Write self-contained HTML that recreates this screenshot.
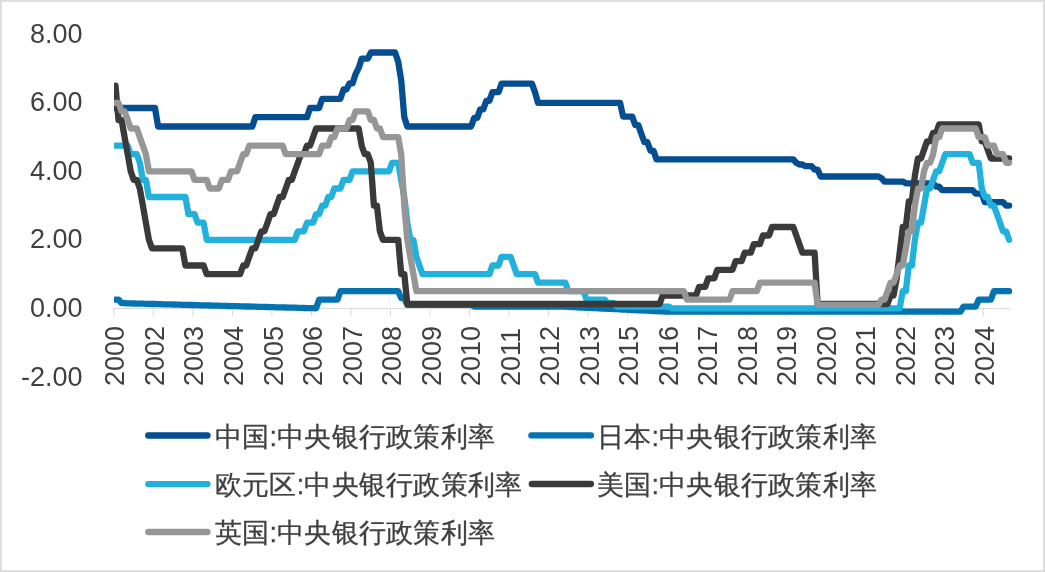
<!DOCTYPE html><html><head><meta charset="utf-8"><style>
html,body{margin:0;padding:0;background:#fff;}
body{width:1045px;height:572px;position:relative;overflow:hidden;font-family:"Liberation Sans",sans-serif;color:#404040;-webkit-font-smoothing:antialiased;}
.frame{position:absolute;left:0;top:0;width:1041px;height:568px;border:2px solid #dedede;}
.yl{will-change:transform;position:absolute;right:962.3px;font-size:27px;line-height:30px;height:30px;white-space:nowrap;}
.xl{will-change:transform;position:absolute;font-size:27px;line-height:30px;height:30px;white-space:nowrap;transform-origin:0 0;transform:rotate(-90deg);}
.lg{will-change:transform;position:absolute;font-size:27px;letter-spacing:0.24px;-webkit-text-stroke:0.3px #404040;line-height:30px;white-space:nowrap;}
</style></head><body><div class="frame"></div>
<svg width="1045" height="572" viewBox="0 0 1045 572" style="position:absolute;left:0;top:0">
<defs><clipPath id="pc"><rect x="114" y="0" width="931" height="572"/></clipPath></defs>
<line x1="113.4" y1="308.5" x2="1010.7" y2="308.5" stroke="#dadada" stroke-width="1.1"/>
<line x1="113.90" y1="308" x2="113.90" y2="316.5" stroke="#dcdcdc" stroke-width="1.1"/>
<line x1="153.41" y1="308" x2="153.41" y2="316.5" stroke="#dcdcdc" stroke-width="1.1"/>
<line x1="192.93" y1="308" x2="192.93" y2="316.5" stroke="#dcdcdc" stroke-width="1.1"/>
<line x1="232.44" y1="308" x2="232.44" y2="316.5" stroke="#dcdcdc" stroke-width="1.1"/>
<line x1="271.95" y1="308" x2="271.95" y2="316.5" stroke="#dcdcdc" stroke-width="1.1"/>
<line x1="311.47" y1="308" x2="311.47" y2="316.5" stroke="#dcdcdc" stroke-width="1.1"/>
<line x1="350.98" y1="308" x2="350.98" y2="316.5" stroke="#dcdcdc" stroke-width="1.1"/>
<line x1="390.49" y1="308" x2="390.49" y2="316.5" stroke="#dcdcdc" stroke-width="1.1"/>
<line x1="430.01" y1="308" x2="430.01" y2="316.5" stroke="#dcdcdc" stroke-width="1.1"/>
<line x1="469.52" y1="308" x2="469.52" y2="316.5" stroke="#dcdcdc" stroke-width="1.1"/>
<line x1="509.03" y1="308" x2="509.03" y2="316.5" stroke="#dcdcdc" stroke-width="1.1"/>
<line x1="548.55" y1="308" x2="548.55" y2="316.5" stroke="#dcdcdc" stroke-width="1.1"/>
<line x1="588.06" y1="308" x2="588.06" y2="316.5" stroke="#dcdcdc" stroke-width="1.1"/>
<line x1="627.58" y1="308" x2="627.58" y2="316.5" stroke="#dcdcdc" stroke-width="1.1"/>
<line x1="667.09" y1="308" x2="667.09" y2="316.5" stroke="#dcdcdc" stroke-width="1.1"/>
<line x1="706.60" y1="308" x2="706.60" y2="316.5" stroke="#dcdcdc" stroke-width="1.1"/>
<line x1="746.12" y1="308" x2="746.12" y2="316.5" stroke="#dcdcdc" stroke-width="1.1"/>
<line x1="785.63" y1="308" x2="785.63" y2="316.5" stroke="#dcdcdc" stroke-width="1.1"/>
<line x1="825.14" y1="308" x2="825.14" y2="316.5" stroke="#dcdcdc" stroke-width="1.1"/>
<line x1="864.66" y1="308" x2="864.66" y2="316.5" stroke="#dcdcdc" stroke-width="1.1"/>
<line x1="904.17" y1="308" x2="904.17" y2="316.5" stroke="#dcdcdc" stroke-width="1.1"/>
<line x1="943.68" y1="308" x2="943.68" y2="316.5" stroke="#dcdcdc" stroke-width="1.1"/>
<line x1="983.20" y1="308" x2="983.20" y2="316.5" stroke="#dcdcdc" stroke-width="1.1"/>
<g clip-path="url(#pc)" fill="none" stroke-width="6.3" stroke-linejoin="round" stroke-linecap="round">
<path d="M115.5 108.0 L155.0 108.0 L158.1 126.5 L252.3 126.5 L255.3 117.2 L307.0 117.2 L310.0 108.0 L319.1 108.0 L322.2 98.8 L340.4 98.8 L343.5 89.5 L346.5 89.5 L349.5 83.3 L352.6 83.3 L355.6 74.1 L358.7 67.9 L361.7 58.7 L367.8 58.7 L370.8 52.5 L395.1 52.5 L398.2 61.8 L401.2 80.3 L404.3 117.2 L407.3 126.5 L471.1 126.5 L474.2 117.9 L477.2 117.9 L480.2 109.4 L483.3 109.4 L486.3 100.8 L489.4 100.8 L492.4 92.2 L498.5 92.2 L501.5 83.7 L531.9 83.7 L535.0 92.2 L538.0 102.9 L620.1 102.9 L623.1 116.6 L632.2 116.6 L635.3 125.1 L638.3 125.1 L641.3 133.7 L644.4 142.2 L647.4 142.2 L650.5 150.8 L653.5 150.8 L656.5 159.4 L793.3 159.4 L796.3 162.8 L799.4 164.5 L802.4 164.5 L805.5 166.2 L811.5 166.2 L814.6 169.6 L817.6 169.6 L820.7 176.5 L878.4 176.5 L881.5 178.2 L884.5 181.6 L902.7 181.6 L905.8 183.3 L933.1 183.3 L936.2 186.7 L939.2 186.7 L942.2 190.2 L972.6 190.2 L975.7 193.6 L981.8 193.6 L984.8 202.2 L1003.0 202.2 L1006.1 205.6 L1009.1 205.6" stroke="#054e92"/>
<path d="M115.5 299.7 L118.5 299.7 L121.6 303.2 L124.6 303.2 L127.7 303.3 L130.7 303.4 L133.7 303.5 L136.8 303.6 L139.8 303.6 L142.9 303.7 L145.9 303.8 L148.9 303.9 L152.0 304.0 L155.0 304.0 L158.1 304.1 L161.1 304.2 L164.1 304.3 L167.2 304.4 L170.2 304.4 L173.3 304.5 L176.3 304.6 L179.3 304.7 L182.4 304.8 L185.4 304.8 L188.4 304.9 L191.5 305.0 L194.5 305.1 L197.6 305.2 L200.6 305.3 L203.6 305.3 L206.7 305.4 L209.7 305.5 L212.8 305.6 L215.8 305.7 L218.8 305.7 L221.9 305.8 L224.9 305.9 L228.0 306.0 L231.0 306.1 L234.0 306.1 L237.1 306.2 L240.1 306.3 L243.2 306.4 L246.2 306.5 L249.2 306.5 L252.3 306.6 L255.3 306.7 L258.4 306.8 L261.4 306.9 L264.4 306.9 L267.5 307.0 L270.5 307.1 L273.6 307.2 L276.6 307.3 L279.6 307.3 L282.7 307.4 L285.7 307.5 L288.8 307.6 L291.8 307.7 L294.8 307.7 L297.9 307.8 L300.9 307.9 L303.9 308.0 L307.0 308.1 L310.0 308.1 L313.1 308.2 L316.1 308.3 L319.1 299.7 L337.4 299.7 L340.4 291.2 L398.2 291.2 L401.2 298.0 L404.3 298.0 L407.3 304.9 L471.1 304.9 L474.2 306.6 L562.3 306.6 L565.3 306.7 L568.4 306.9 L571.4 307.0 L574.5 307.2 L577.5 307.3 L580.5 307.5 L583.6 307.6 L586.6 307.8 L589.7 307.9 L592.7 308.1 L595.7 308.2 L598.8 308.3 L601.8 308.5 L604.9 308.6 L607.9 308.8 L610.9 308.9 L614.0 309.1 L617.0 309.2 L620.1 309.4 L623.1 309.5 L626.1 309.7 L629.2 309.8 L632.2 310.0 L635.3 310.1 L638.3 310.3 L641.3 310.4 L644.4 310.6 L647.4 310.7 L650.5 310.8 L653.5 311.0 L656.5 311.1 L659.6 311.3 L662.6 311.4 L665.6 311.6 L668.7 311.7 L671.7 311.7 L960.5 311.7 L963.5 306.6 L966.6 306.6 L975.7 306.6 L978.7 299.7 L990.9 299.7 L993.9 291.2 L1009.1 291.2" stroke="#0473b2"/>
<path d="M115.5 145.7 L127.7 145.7 L130.7 154.2 L136.8 154.2 L139.8 162.8 L142.9 179.9 L145.9 179.9 L148.9 197.0 L185.4 197.0 L188.4 214.1 L194.5 214.1 L197.6 222.7 L203.6 222.7 L206.7 239.8 L294.8 239.8 L297.9 231.3 L303.9 231.3 L307.0 222.7 L313.1 222.7 L316.1 214.1 L319.1 214.1 L322.2 205.6 L325.2 205.6 L328.3 197.0 L331.3 197.0 L334.3 188.5 L340.4 188.5 L343.5 179.9 L349.5 179.9 L352.6 171.3 L389.1 171.3 L392.1 162.8 L398.2 162.8 L401.2 179.9 L404.3 197.0 L407.3 222.7 L410.3 239.8 L413.4 239.8 L416.4 256.9 L419.4 265.5 L422.5 274.1 L489.4 274.1 L492.4 265.5 L498.5 265.5 L501.5 256.9 L510.6 256.9 L513.7 265.5 L516.7 274.1 L535.0 274.1 L538.0 282.6 L565.3 282.6 L568.4 291.2 L583.6 291.2 L586.6 299.7 L604.9 299.7 L607.9 303.2 L614.0 303.2 L617.0 306.6 L668.7 306.6 L671.7 308.3 L899.7 308.3 L902.7 291.2 L905.8 291.2 L908.8 265.5 L911.8 265.5 L914.9 239.8 L917.9 222.7 L921.0 222.7 L924.0 205.6 L927.0 188.5 L930.1 188.5 L933.1 179.9 L936.2 171.3 L939.2 171.3 L942.2 162.8 L945.3 154.2 L969.6 154.2 L972.6 162.8 L978.7 162.8 L981.8 188.5 L984.8 197.0 L987.8 197.0 L990.9 205.6 L993.9 205.6 L997.0 214.1 L1000.0 222.7 L1003.0 231.3 L1006.1 231.3 L1009.1 239.8" stroke="#21b1dc"/>
<path d="M115.5 85.7 L118.5 120.0 L121.6 120.0 L124.6 137.1 L127.7 154.2 L130.7 171.3 L133.7 179.9 L136.8 179.9 L139.8 188.5 L142.9 205.6 L145.9 222.7 L148.9 239.8 L152.0 248.4 L182.4 248.4 L185.4 265.5 L203.6 265.5 L206.7 274.1 L240.1 274.1 L243.2 265.5 L246.2 265.5 L249.2 256.9 L252.3 248.4 L255.3 248.4 L258.4 239.8 L261.4 231.3 L264.4 231.3 L267.5 222.7 L270.5 214.1 L273.6 214.1 L276.6 205.6 L279.6 197.0 L282.7 197.0 L285.7 188.5 L288.8 179.9 L291.8 179.9 L294.8 171.3 L297.9 162.8 L300.9 154.2 L303.9 154.2 L307.0 145.7 L310.0 145.7 L313.1 137.1 L316.1 128.5 L358.7 128.5 L361.7 145.7 L364.7 154.2 L367.8 154.2 L370.8 162.8 L373.9 205.6 L376.9 205.6 L379.9 231.3 L383.0 239.8 L398.2 239.8 L401.2 274.1 L404.3 274.1 L407.3 304.0 L659.6 304.0 L662.6 295.5 L696.0 295.5 L699.1 286.9 L705.2 286.9 L708.2 278.3 L714.3 278.3 L717.3 269.8 L732.5 269.8 L735.6 261.2 L741.6 261.2 L744.7 252.7 L750.8 252.7 L753.8 244.1 L759.9 244.1 L762.9 235.5 L769.0 235.5 L772.0 227.0 L793.3 227.0 L796.3 235.5 L799.4 244.1 L802.4 252.7 L814.6 252.7 L817.6 304.0 L887.5 304.0 L890.6 295.5 L893.6 295.5 L896.7 278.3 L899.7 252.7 L902.7 227.0 L905.8 227.0 L908.8 201.3 L911.8 201.3 L914.9 175.6 L917.9 158.5 L921.0 158.5 L924.0 149.9 L927.0 141.4 L930.1 141.4 L933.1 132.8 L936.2 132.8 L939.2 124.3 L978.7 124.3 L981.8 141.4 L984.8 141.4 L987.8 149.9 L990.9 158.5 L1009.1 158.5" stroke="#3a3a3a"/>
<path d="M115.5 102.9 L118.5 102.9 L121.6 111.4 L124.6 111.4 L127.7 120.0 L130.7 128.5 L136.8 128.5 L139.8 137.1 L142.9 145.7 L145.9 154.2 L148.9 171.3 L191.5 171.3 L194.5 179.9 L206.7 179.9 L209.7 188.5 L218.8 188.5 L221.9 179.9 L228.0 179.9 L231.0 171.3 L237.1 171.3 L240.1 162.8 L243.2 154.2 L246.2 154.2 L249.2 145.7 L282.7 145.7 L285.7 154.2 L319.1 154.2 L322.2 145.7 L328.3 145.7 L331.3 137.1 L334.3 137.1 L337.4 128.5 L346.5 128.5 L349.5 120.0 L352.6 120.0 L355.6 111.4 L367.8 111.4 L370.8 120.0 L373.9 120.0 L376.9 128.5 L379.9 128.5 L383.0 137.1 L398.2 137.1 L401.2 154.2 L404.3 205.6 L407.3 239.8 L410.3 256.9 L413.4 274.1 L416.4 291.2 L683.9 291.2 L686.9 299.7 L729.5 299.7 L732.5 291.2 L756.8 291.2 L759.9 282.6 L814.6 282.6 L817.6 304.9 L878.4 304.9 L881.5 299.7 L884.5 299.7 L887.5 291.2 L890.6 282.6 L893.6 282.6 L896.7 274.1 L899.7 265.5 L902.7 265.5 L905.8 248.4 L908.8 231.3 L911.8 231.3 L914.9 205.6 L917.9 188.5 L921.0 188.5 L924.0 171.3 L927.0 162.8 L930.1 162.8 L933.1 154.2 L936.2 137.1 L939.2 137.1 L942.2 128.5 L975.7 128.5 L978.7 137.1 L984.8 137.1 L987.8 145.7 L993.9 145.7 L997.0 154.2 L1003.0 154.2 L1006.1 162.8 L1009.1 162.8" stroke="#969696"/>
</g>
<line x1="148.3" y1="435.5" x2="207.5" y2="435.5" stroke="#054e92" stroke-width="6.3" stroke-linecap="round"/>
<line x1="531.4" y1="435.4" x2="590.9" y2="435.4" stroke="#0473b2" stroke-width="6.3" stroke-linecap="round"/>
<line x1="148.3" y1="484.1" x2="207.5" y2="484.1" stroke="#21b1dc" stroke-width="6.3" stroke-linecap="round"/>
<line x1="531.8" y1="484" x2="590.9" y2="484" stroke="#3a3a3a" stroke-width="6.3" stroke-linecap="round"/>
<line x1="148.3" y1="532" x2="207.5" y2="532" stroke="#969696" stroke-width="6.3" stroke-linecap="round"/>
</svg>
<div class="yl" style="top:18.7px">8.00</div>
<div class="yl" style="top:87.2px">6.00</div>
<div class="yl" style="top:155.7px">4.00</div>
<div class="yl" style="top:224.2px">2.00</div>
<div class="yl" style="top:292.9px">0.00</div>
<div class="yl" style="top:362.2px">-2.00</div>
<div class="xl" style="left:100.4px;top:386.0px">2000</div>
<div class="xl" style="left:139.9px;top:386.0px">2002</div>
<div class="xl" style="left:179.4px;top:386.0px">2003</div>
<div class="xl" style="left:218.9px;top:386.0px">2004</div>
<div class="xl" style="left:258.5px;top:386.0px">2005</div>
<div class="xl" style="left:298.0px;top:386.0px">2006</div>
<div class="xl" style="left:337.5px;top:386.0px">2007</div>
<div class="xl" style="left:377.0px;top:386.0px">2008</div>
<div class="xl" style="left:416.5px;top:386.0px">2009</div>
<div class="xl" style="left:456.0px;top:386.0px">2010</div>
<div class="xl" style="left:495.5px;top:386.0px">2011</div>
<div class="xl" style="left:535.0px;top:386.0px">2012</div>
<div class="xl" style="left:574.6px;top:386.0px">2013</div>
<div class="xl" style="left:614.1px;top:386.0px">2015</div>
<div class="xl" style="left:653.6px;top:386.0px">2016</div>
<div class="xl" style="left:693.1px;top:386.0px">2017</div>
<div class="xl" style="left:732.6px;top:386.0px">2018</div>
<div class="xl" style="left:772.1px;top:386.0px">2019</div>
<div class="xl" style="left:811.6px;top:386.0px">2020</div>
<div class="xl" style="left:851.2px;top:386.0px">2021</div>
<div class="xl" style="left:890.7px;top:386.0px">2022</div>
<div class="xl" style="left:930.2px;top:386.0px">2023</div>
<div class="xl" style="left:969.7px;top:386.0px">2024</div>
<div class="lg" style="left:214.8px;top:421.5px">中国:中央银行政策利率</div>
<div class="lg" style="left:596.6px;top:421.5px">日本:中央银行政策利率</div>
<div class="lg" style="left:214.8px;top:470.3px">欧元区:中央银行政策利率</div>
<div class="lg" style="left:596.6px;top:470.3px">美国:中央银行政策利率</div>
<div class="lg" style="left:214.8px;top:518.3px">英国:中央银行政策利率</div>
</body></html>
